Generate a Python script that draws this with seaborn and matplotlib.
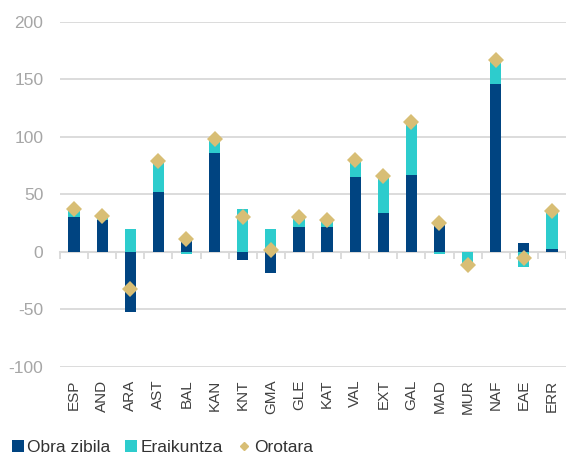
import numpy as np
import matplotlib
matplotlib.use("Agg")
import matplotlib.pyplot as plt
from matplotlib.patches import Patch
from matplotlib.lines import Line2D
import seaborn as sns

# data
regions = ["ESP", "AND", "ARA", "AST", "BAL", "KAN", "KNT", "GMA", "GLE",
           "KAT", "VAL", "EXT", "GAL", "MAD", "MUR", "NAF", "EAE", "ERR"]
obra_zibila = [30, 28, -52, 52, 12, 86, -7, -18, 22, 22, 65, 34, 67, 27, 0, 146, 8, 3]
eraikuntza = [7, 3, 20, 27, -2, 12, 37, 20, 8, 6, 15, 32, 46, -2, -10, 21, -13, 33]
orotara = [37, 31, -32, 79, 11, 98, 30, 2, 30, 28, 80, 66, 113, 25, -11, 167, -5, 36]
y_ticks = [-100, -50, 0, 50, 100, 150, 200]

NAVY = "#004481"
AQUA = "#2DCCCD"
SAND = "#D8BE75"
GRID = "#D9D9D9"

sns.set_style("white")
plt.rcParams["font.family"] = ["Liberation Sans", "DejaVu Sans"]
plt.rcParams["axes.unicode_minus"] = False

fig, ax = plt.subplots(figsize=(5.66, 4.57), dpi=100)
fig.subplots_adjust(left=0.106, right=1.0, top=0.952, bottom=0.197)

n = len(regions)
pos = np.arange(n)
obra = np.array(obra_zibila)
erai = np.array(eraikuntza)
# Excel-style stacking: positives and negatives stack separately
bottom = np.where(np.sign(obra) == np.sign(erai), obra, 0)

sns.barplot(x=regions, y=obra_zibila, color=NAVY, saturation=1, width=0.4,
            linewidth=0, ax=ax, zorder=2)
ax.bar(pos, erai, bottom=bottom, width=0.4, color=AQUA, linewidth=0, zorder=2)
sns.pointplot(x=regions, y=orotara, color=SAND, marker="D", linestyle="none",
              markersize=8.5, markeredgewidth=0, errorbar=None, ax=ax, zorder=4)

ax.set_xlim(-0.5, n - 0.5)
ax.set_ylim(-100, 200)
ax.set_yticks(y_ticks)
ax.yaxis.grid(True, color=GRID, linewidth=1.3)
ax.set_axisbelow(True)
sns.despine(ax=ax, left=True, bottom=True)
ax.set_xlabel("")
ax.set_ylabel("")

ax.tick_params(axis="y", length=0, pad=12, labelsize=12.5, labelcolor="#A6A6A6")
ax.tick_params(axis="x", length=0, pad=9, labelsize=11, labelcolor="#404040",
               labelrotation=90)

# zero line with category boundary ticks
zero_frac = (0 - (-100)) / 300
sec = ax.secondary_xaxis(zero_frac)
sec.set_xticks(np.arange(n + 1) - 0.5)
sec.set_xticklabels([])
sec.tick_params(axis="x", direction="out", length=5, width=1.3, color=GRID)
for s in sec.spines.values():
    s.set_color(GRID)
    s.set_linewidth(1.5)

handles = [
    Patch(facecolor=NAVY, edgecolor="none"),
    Patch(facecolor=AQUA, edgecolor="none"),
    Line2D([], [], marker="D", color=SAND, linestyle="none", markersize=4),
]
fig.legend(handles, ["Obra zibila", "Eraikuntza", "Orotara"], loc="lower left",
           bbox_to_anchor=(-0.007, -0.03), ncol=3, frameon=False, fontsize=12.5,
           handlelength=0.7, handleheight=0.7, handletextpad=0.2,
           columnspacing=0.85, labelcolor="#333333")

fig.savefig("out.png", dpi=100)
